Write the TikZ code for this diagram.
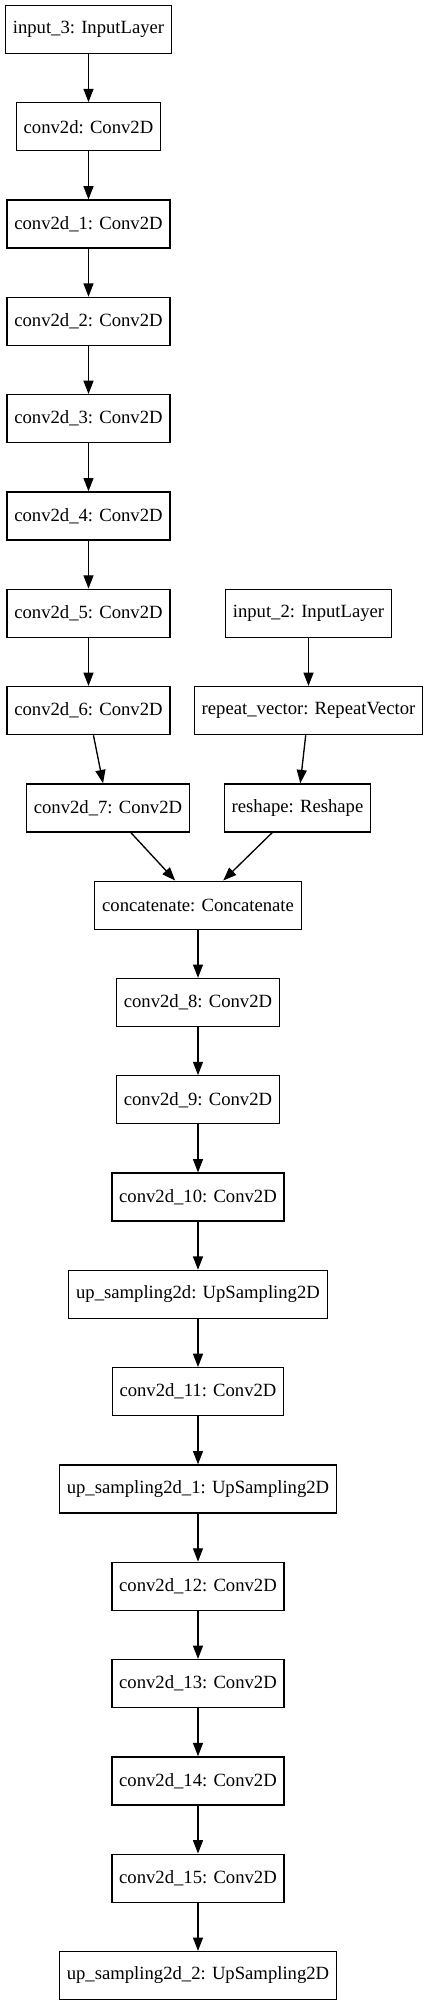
\documentclass[tikz,border=0pt]{standalone}
\usepackage{fontspec}
\setmainfont{Liberation Serif}
\usetikzlibrary{arrows.meta}
\begin{document}
\begin{tikzpicture}[x=0.75pt, y=-0.75pt,
  layer/.style={rectangle, draw, line width=1pt, minimum height=36pt, inner xsep=5.5pt,
    font=\fontsize{14pt}{16pt}\selectfont},
  >={Triangle[length=10pt, width=7.5pt]}]
  \useasboundingbox (0,0) rectangle (427,2007);
  % Encoder branch
  \node[layer] (in3) at (88.5, 29.5)  {input\_3: InputLayer};
  \node[layer] (c0)  at (88.5, 126.8) {conv2d: Conv2D};
  \node[layer] (c1)  at (88.5, 224.1) {conv2d\_1: Conv2D};
  \node[layer] (c2)  at (88.5, 321.4) {conv2d\_2: Conv2D};
  \node[layer] (c3)  at (88.5, 418.7) {conv2d\_3: Conv2D};
  \node[layer] (c4)  at (88.5, 516.0) {conv2d\_4: Conv2D};
  \node[layer] (c5)  at (88.5, 613.3) {conv2d\_5: Conv2D};
  \node[layer] (c6)  at (88.5, 710.6) {conv2d\_6: Conv2D};
  \node[layer] (c7)  at (108, 807.9)  {conv2d\_7: Conv2D};
  % Second input branch
  \node[layer] (in2) at (308.5, 613.3) {input\_2: InputLayer};
  \node[layer] (rv)  at (308.5, 710.6) {repeat\_vector: RepeatVector};
  \node[layer] (rs)  at (297.5, 807.9) {reshape: Reshape};
  % Merged decoder
  \node[layer] (cat) at (198, 905.2)  {concatenate: Concatenate};
  \node[layer] (c8)  at (198, 1002.5) {conv2d\_8: Conv2D};
  \node[layer] (c9)  at (198, 1099.8) {conv2d\_9: Conv2D};
  \node[layer] (c10) at (198, 1197.1) {conv2d\_10: Conv2D};
  \node[layer] (up0) at (198, 1294.4) {up\_sampling2d: UpSampling2D};
  \node[layer] (c11) at (198, 1391.7) {conv2d\_11: Conv2D};
  \node[layer] (up1) at (198, 1489.0) {up\_sampling2d\_1: UpSampling2D};
  \node[layer] (c12) at (198, 1586.3) {conv2d\_12: Conv2D};
  \node[layer] (c13) at (198, 1683.6) {conv2d\_13: Conv2D};
  \node[layer] (c14) at (198, 1780.9) {conv2d\_14: Conv2D};
  \node[layer] (c15) at (198, 1878.2) {conv2d\_15: Conv2D};
  \node[layer] (up2) at (198, 1975.5) {up\_sampling2d\_2: UpSampling2D};
  % Connections
  \draw[->, line width=1pt] (in3) -- (c0);
  \draw[->, line width=1pt] (c0) -- (c1);
  \draw[->, line width=1pt] (c1) -- (c2);
  \draw[->, line width=1pt] (c2) -- (c3);
  \draw[->, line width=1pt] (c3) -- (c4);
  \draw[->, line width=1pt] (c4) -- (c5);
  \draw[->, line width=1pt] (c5) -- (c6);
  \draw[->, line width=1pt] (c6) -- (c7);
  \draw[->, line width=1pt] (in2) -- (rv);
  \draw[->, line width=1pt] (rv) -- (rs);
  \draw[->, line width=1pt] (c7) -- (cat);
  \draw[->, line width=1pt] (rs) -- (cat);
  \draw[->, line width=1pt] (cat) -- (c8);
  \draw[->, line width=1pt] (c8) -- (c9);
  \draw[->, line width=1pt] (c9) -- (c10);
  \draw[->, line width=1pt] (c10) -- (up0);
  \draw[->, line width=1pt] (up0) -- (c11);
  \draw[->, line width=1pt] (c11) -- (up1);
  \draw[->, line width=1pt] (up1) -- (c12);
  \draw[->, line width=1pt] (c12) -- (c13);
  \draw[->, line width=1pt] (c13) -- (c14);
  \draw[->, line width=1pt] (c14) -- (c15);
  \draw[->, line width=1pt] (c15) -- (up2);
\end{tikzpicture}
\end{document}
